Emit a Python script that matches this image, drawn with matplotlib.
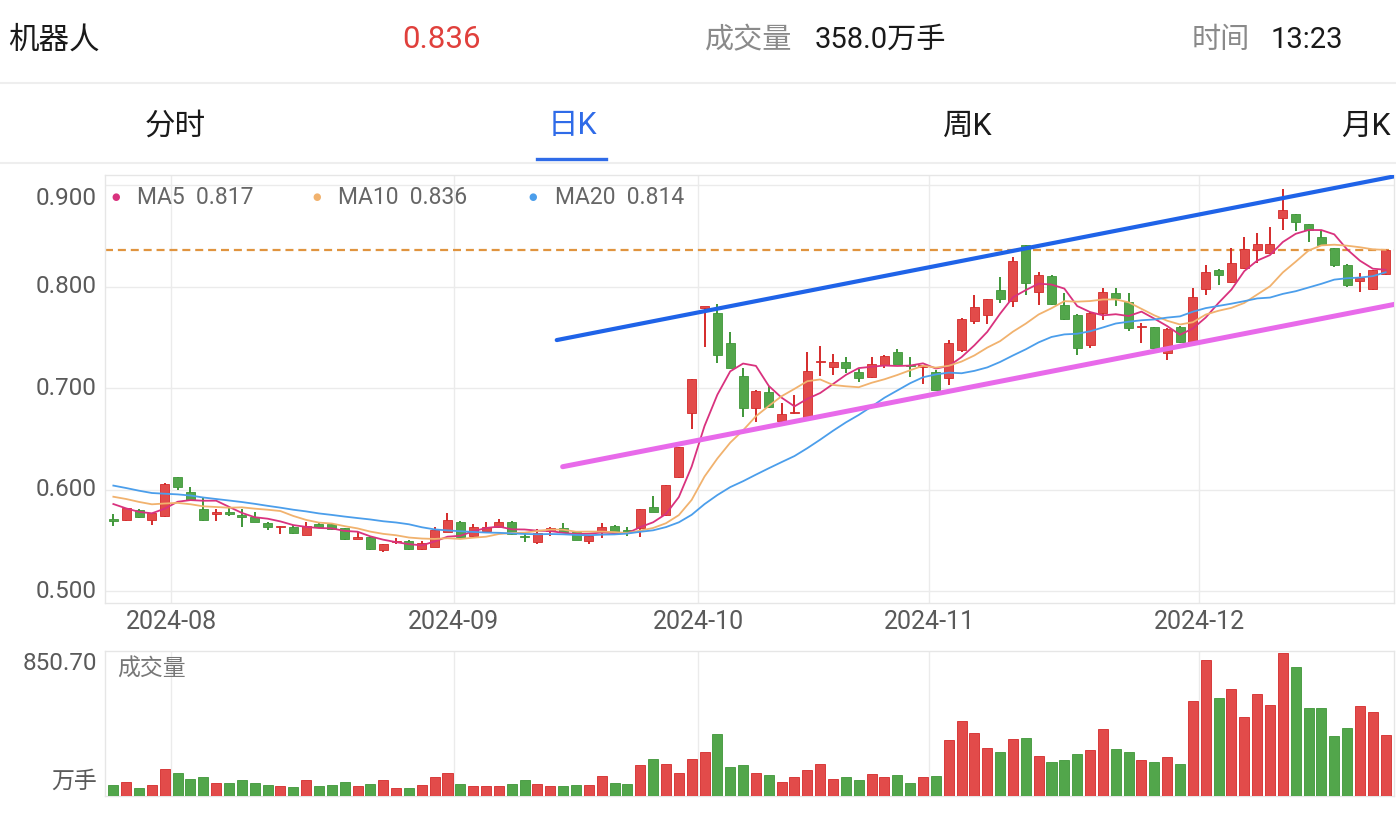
import matplotlib
matplotlib.use('Agg')
import matplotlib.pyplot as plt
import numpy as np
import pandas as pd
from matplotlib.lines import Line2D

plt.rcParams['font.family'] = ['Roboto', 'Noto Sans CJK SC', 'DejaVu Sans']

# ---------------- data ----------------
holidays = ['2024-09-16', '2024-09-17', '2024-10-01', '2024-10-02',
            '2024-10-03', '2024-10-04', '2024-10-07']
dates = [d for d in pd.bdate_range('2024-07-25', '2024-12-20')
         if d.strftime('%Y-%m-%d') not in holidays]

opens = [0.5700, 0.5700, 0.5800, 0.5705, 0.5740, 0.6120, 0.5973, 0.5806, 0.5760, 0.5782,
         0.5735, 0.5733, 0.5674, 0.5630, 0.5634, 0.5552, 0.5660, 0.5658, 0.5618, 0.5513,
         0.5530, 0.5404, 0.5480, 0.5496, 0.5411, 0.5437, 0.5585, 0.5684, 0.5542, 0.5595,
         0.5634, 0.5684, 0.5530, 0.5487, 0.5595, 0.5625, 0.5585, 0.5497, 0.5585, 0.5644,
         0.5588, 0.5618, 0.5832, 0.5750, 0.6121, 0.6758, 0.7795, 0.7745, 0.7449, 0.7120,
         0.6802, 0.6960, 0.6680, 0.6752, 0.6720, 0.7255, 0.7212, 0.7261, 0.7156, 0.7107,
         0.7229, 0.7360, 0.7220, 0.7210, 0.7160, 0.7098, 0.7377, 0.7666, 0.7722, 0.7968,
         0.7863, 0.8412, 0.7952, 0.8110, 0.7820, 0.7722, 0.7426, 0.7739, 0.7942, 0.7853,
         0.7600, 0.7600, 0.7350, 0.7607, 0.7459, 0.7975, 0.8166, 0.8050, 0.8190, 0.8363,
         0.8330, 0.8675, 0.8718, 0.8619, 0.8494, 0.8379, 0.8215, 0.8061, 0.7975, 0.8126]
highs = [0.5756, 0.5820, 0.5805, 0.5770, 0.6070, 0.6122, 0.6029, 0.5914, 0.5806, 0.5815,
         0.5806, 0.5780, 0.5676, 0.5637, 0.5655, 0.5684, 0.5670, 0.5662, 0.5620, 0.5585,
         0.5532, 0.5466, 0.5523, 0.5505, 0.5490, 0.5634, 0.5766, 0.5690, 0.5660, 0.5684,
         0.5707, 0.5690, 0.5570, 0.5610, 0.5634, 0.5674, 0.5590, 0.5555, 0.5667, 0.5650,
         0.5634, 0.5810, 0.5937, 0.6050, 0.6420, 0.7090, 0.7805, 0.7830, 0.7551, 0.7196,
         0.6980, 0.7025, 0.6857, 0.6933, 0.7360, 0.7416, 0.7334, 0.7310, 0.7189, 0.7310,
         0.7325, 0.7383, 0.7310, 0.7220, 0.7180, 0.7475, 0.7695, 0.7920, 0.7880, 0.8094,
         0.8290, 0.8415, 0.8150, 0.8115, 0.7935, 0.7735, 0.7750, 0.7985, 0.7985, 0.7942,
         0.7646, 0.7605, 0.7590, 0.7610, 0.7985, 0.8215, 0.8180, 0.8380, 0.8488, 0.8527,
         0.8593, 0.8961, 0.8720, 0.8620, 0.8560, 0.8380, 0.8230, 0.8133, 0.8170, 0.8370]
lows = [0.5644, 0.5690, 0.5725, 0.5655, 0.5730, 0.5996, 0.5890, 0.5690, 0.5693, 0.5740,
        0.5630, 0.5680, 0.5602, 0.5562, 0.5565, 0.5550, 0.5620, 0.5600, 0.5500, 0.5510,
        0.5400, 0.5388, 0.5460, 0.5400, 0.5400, 0.5435, 0.5580, 0.5530, 0.5530, 0.5590,
        0.5630, 0.5550, 0.5487, 0.5464, 0.5542, 0.5580, 0.5500, 0.5460, 0.5520, 0.5580,
        0.5546, 0.5530, 0.5780, 0.5740, 0.6110, 0.6594, 0.7403, 0.7245, 0.7195, 0.6719,
        0.6670, 0.6810, 0.6670, 0.6750, 0.6715, 0.7120, 0.7130, 0.7146, 0.7064, 0.7100,
        0.7195, 0.7235, 0.7114, 0.7040, 0.6980, 0.7032, 0.7360, 0.7633, 0.7630, 0.7844,
        0.7800, 0.7920, 0.7820, 0.7820, 0.7670, 0.7327, 0.7393, 0.7673, 0.7810, 0.7568,
        0.7449, 0.7390, 0.7278, 0.7450, 0.7450, 0.7920, 0.8018, 0.8040, 0.8180, 0.8232,
        0.8320, 0.8560, 0.8547, 0.8445, 0.8400, 0.8192, 0.8000, 0.7952, 0.7965, 0.8120]
closes = [0.5690, 0.5815, 0.5733, 0.5766, 0.6060, 0.6029, 0.5897, 0.5700, 0.5770, 0.5756,
          0.5730, 0.5684, 0.5628, 0.5635, 0.5575, 0.5641, 0.5628, 0.5611, 0.5510, 0.5536,
          0.5411, 0.5464, 0.5490, 0.5411, 0.5476, 0.5602, 0.5700, 0.5536, 0.5634, 0.5634,
          0.5677, 0.5562, 0.5528, 0.5575, 0.5618, 0.5585, 0.5503, 0.5546, 0.5634, 0.5585,
          0.5583, 0.5805, 0.5783, 0.6045, 0.6417, 0.7088, 0.7805, 0.7327, 0.7196, 0.6802,
          0.6972, 0.6818, 0.6746, 0.6768, 0.7173, 0.7260, 0.7261, 0.7196, 0.7104, 0.7239,
          0.7320, 0.7239, 0.7215, 0.7215, 0.6982, 0.7443, 0.7680, 0.7798, 0.7877, 0.7877,
          0.8254, 0.8034, 0.8116, 0.7830, 0.7680, 0.7393, 0.7739, 0.7952, 0.7886, 0.7591,
          0.7610, 0.7393, 0.7584, 0.7459, 0.7902, 0.8149, 0.8116, 0.8238, 0.8370, 0.8418,
          0.8425, 0.8760, 0.8642, 0.8560, 0.8412, 0.8215, 0.8018, 0.8084, 0.8166, 0.8360]
volumes = [66, 84, 50, 68, 160, 134, 104, 112, 80, 78,
           98, 80, 68, 62, 56, 98, 62, 68, 84, 62,
           74, 98, 50, 48, 68, 110, 134, 74, 62, 58,
           62, 74, 98, 74, 58, 62, 64, 64, 120, 76,
           74, 186, 218, 188, 138, 222, 264, 366, 174, 182,
           138, 122, 82, 110, 154, 190, 102, 114, 94, 130,
           114, 126, 80, 110, 120, 334, 448, 376, 284, 264,
           340, 346, 238, 200, 216, 250, 276, 400, 282, 260,
           216, 204, 230, 188, 566, 810, 584, 634, 472, 608,
           540, 850.7, 764, 526, 526, 358, 406, 536, 498, 364]
# closes of the 19 sessions before the window (needed for the moving averages)
pre_closes = [0.630, 0.626, 0.622, 0.620, 0.616, 0.612, 0.609, 0.607, 0.605, 0.603,
              0.604, 0.602, 0.600, 0.598, 0.597, 0.603, 0.5905, 0.5836, 0.5829]

# trend lines (index, price)
blue_line = ([34.5, 99.8], [0.7475, 0.9093])
pink_line = ([34.96, 99.8], [0.6226, 0.7830])

price_ticks = [0.5, 0.6, 0.7, 0.8, 0.9]
vol_top_label = '850.70'

# ---------------- figure ----------------
W, H = 1396, 816
fig = plt.figure(figsize=(W / 100, H / 100), dpi=100)
fig.patch.set_facecolor('white')


def fx(x):
    return x / W


def fy(y):
    return 1 - y / H


RED = '#E24B4A'
RED_E = '#D42A2A'
GREEN = '#52A64B'
GREEN_E = '#3E9638'
GRID = '#EBEBEB'
n = len(closes)
idx = np.arange(n)
o = np.array(opens); c = np.array(closes); h = np.array(highs); l = np.array(lows)
up = c >= o

axp = fig.add_axes([fx(105), fy(603), fx(1394) - fx(105), fy(175) - fy(603)])
axv = fig.add_axes([fx(105), fy(796), fx(1394) - fx(105), fy(651) - fy(796)])

xlo, xhi = -0.65, 99.65
axp.set_xlim(xlo, xhi)
axp.set_ylim(0.4882, 0.9103)
axv.set_xlim(xlo, xhi)
axv.set_ylim(0, 862)

for a in (axp, axv):
    a.set_xticks([]); a.set_yticks([])
    for s in a.spines.values():
        s.set_color('#E6E6E6'); s.set_linewidth(1.0)

# grid
for t in price_ticks:
    axp.axhline(t, color=GRID, lw=1.0, zorder=0)
month_starts = [i for i in range(1, n) if dates[i].month != dates[i - 1].month]
for i in month_starts:
    axp.axvline(i - 0.5, color=GRID, lw=1.0, zorder=0)
    axv.axvline(i - 0.5, color=GRID, lw=1.0, zorder=0)

# candles
cols = np.where(up, RED, GREEN)
ecols = np.where(up, RED_E, GREEN_E)
axp.vlines(idx, l, h, colors=ecols, lw=1.4, zorder=3)
bottom = np.minimum(o, c)
height = np.maximum(np.abs(c - o), 0.0016)
axp.bar(idx, height, bottom=bottom, width=0.7, color=cols, edgecolor=ecols,
        linewidth=0.6, zorder=4)

# moving averages
full = pd.Series(pre_closes + closes)
ma_cfg = [(5, '#D9327E'), (10, '#F1B26E'), (20, '#4B9EEB')]
for p, col in ma_cfg:
    ma = full.rolling(p).mean().values[len(pre_closes):]
    axp.plot(idx, ma, color=col, lw=1.3, zorder=5)

# current price dashed line
axp.axhline(closes[-1], color='#E0943F', lw=1.6, dashes=[3.6, 2.2], zorder=2)

# trend lines
axp.plot(*blue_line, color='#1F63E8', lw=3.0, solid_capstyle='round', zorder=6)
axp.plot(*pink_line, color='#E86AEA', lw=3.6, solid_capstyle='round', zorder=6)

# volume bars
axv.bar(idx, volumes, width=0.78, color=cols, edgecolor=ecols, linewidth=0.6, zorder=3)

# y labels price
TICKC = '#5A5A5A'
TFS = 17.5
for t in price_ticks:
    yy = t if t < 0.85 else 0.8876
    axp.text(-0.0065, yy, f'{t:.3f}', transform=axp.get_yaxis_transform(),
             ha='right', va='center', fontsize=TFS, color=TICKC)

# x labels
for i in month_starts:
    axp.text(i - 0.5, -0.045, dates[i].strftime('%Y-%m'), transform=axp.get_xaxis_transform(),
             ha='center', va='center', fontsize=18, color=TICKC)

# volume labels
fig.text(fx(97), fy(664), vol_top_label, ha='right', va='center', fontsize=TFS, color=TICKC)
fig.text(fx(97), fy(781), '万手', ha='right', va='center', fontsize=16.5, color=TICKC)
fig.text(fx(117), fy(669), '成交量', ha='left', va='center', fontsize=16.5, color='#777777')

# legend
ma_last = [full.rolling(p).mean().values[-1] for p, _ in ma_cfg]
leg_x = [(116, 137), (317, 338), (533, 555)]
for (p, col), (dx, tx), v in zip(ma_cfg, leg_x, ma_last):
    fig.text(fx(dx), fy(197), '●', ha='center', va='center', fontsize=7, color=col,
             family=['DejaVu Sans'])
    fig.text(fx(tx), fy(197), f'MA{p}  {v:.3f}', ha='left', va='center',
             fontsize=16.5, color='#666666')

# header
fig.text(fx(8), fy(40), '机器人', ha='left', va='center', fontsize=22, color='#1A1A1A')
fig.text(fx(402), fy(40), f'{closes[-1]:.3f}', ha='left', va='center', fontsize=22.5, color='#E0403C')
fig.text(fx(705), fy(40), '成交量', ha='left', va='center', fontsize=21, color='#8A8A8A')
fig.text(fx(815), fy(40), '358.0万手', ha='left', va='center', fontsize=21, color='#1A1A1A')
fig.text(fx(1192), fy(40), '时间', ha='left', va='center', fontsize=21, color='#8A8A8A')
fig.text(fx(1271), fy(40), '13:23', ha='left', va='center', fontsize=21, color='#1A1A1A')

fig.add_artist(Line2D([0, 1], [fy(83), fy(83)], color='#EEEEEE', lw=1.5, transform=fig.transFigure))
fig.add_artist(Line2D([0, 1], [fy(163), fy(163)], color='#EEEEEE', lw=1.5, transform=fig.transFigure))

tabs = [('分时', 175, '#1A1A1A'), ('日K', 572, '#2F6BE8'), ('周K', 968, '#1A1A1A'), ('月K', 1366, '#1A1A1A')]
for t, cx, col in tabs:
    fig.text(fx(cx), fy(126), t, ha='center', va='center', fontsize=22, color=col)
fig.add_artist(Line2D([fx(537), fx(606)], [fy(159), fy(159)], color='#2F6BE8', lw=2.4,
                      transform=fig.transFigure))

fig.savefig('out.png', dpi=100, facecolor='white')
